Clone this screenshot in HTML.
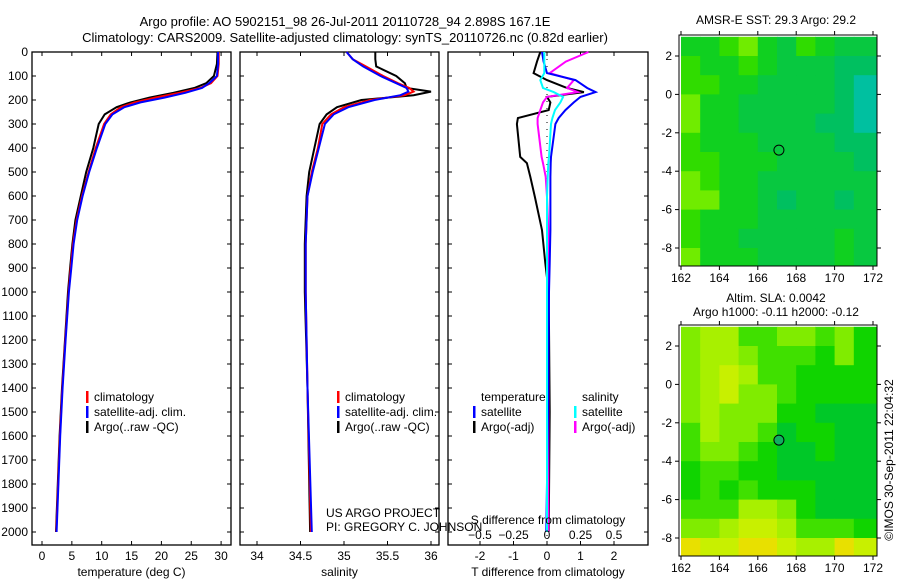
<!DOCTYPE html>
<html><head><meta charset="utf-8">
<style>
html,body{margin:0;padding:0;background:#fff;}
svg{display:block;font-family:"Liberation Sans",sans-serif;}
text{font-size:12px;fill:#000;}
</style></head>
<body>
<svg id="fig" width="900" height="580" xmlns="http://www.w3.org/2000/svg">
<text x="345" y="26" text-anchor="middle" style="font-size:13px">Argo profile: AO 5902151_98 26-Jul-2011 20110728_94 2.898S 167.1E</text>
<text x="345" y="42" text-anchor="middle" style="font-size:13px">Climatology: CARS2009. Satellite-adjusted climatology: synTS_20110726.nc (0.82d earlier)</text>
<g id="p1"></g>
<g id="p2"></g>
<g id="p3"></g>
<g id="m1"></g>
<g id="m2"></g>
<text x="776" y="24" text-anchor="middle">AMSR-E SST: 29.3 Argo: 29.2</text>
<text x="776" y="302" text-anchor="middle">Altim. SLA: 0.0042</text>
<text x="776" y="316" text-anchor="middle">Argo h1000: -0.11 h2000: -0.12</text>
<text transform="translate(893,460) rotate(-90)" text-anchor="middle">©IMOS 30-Sep-2011 22:04:32</text>
<text x="326" y="517">US ARGO PROJECT</text>
<text x="326" y="531">PI: GREGORY C. JOHNSON</text>
</svg>
<script>
// ---- profile data ----
const tDepth=[0,50,100,130,150,170,190,210,230,260,300,400,500,600,700,800,900,1000,1200,1400,1600,1800,2000];
const tClim=[29.6,29.6,29.4,28.3,26.5,23,19,15.5,13.2,11.5,10.4,9.0,7.8,6.7,5.8,5.2,4.8,4.45,3.9,3.4,3.0,2.7,2.4];
const tSat=[29.5,29.5,29.3,28.0,26.8,24,20.5,16.5,13.8,11.8,10.6,9.2,7.9,6.8,5.9,5.3,4.9,4.5,3.95,3.45,3.05,2.75,2.45];
const tArgo=[29.4,29.3,28.8,27.5,25.5,22,18,14.8,12.5,10.5,9.5,8.6,7.4,6.5,5.6,5.1,4.7,4.35,3.85,3.35,2.95,2.65,2.35];
const sDepth=[0,30,60,100,130,150,165,180,200,230,260,300,400,500,600,800,1000,1400,2000];
const sClim=[35.03,35.1,35.25,35.45,35.62,35.75,35.8,35.7,35.3,35.0,34.85,34.75,34.7,34.63,34.58,34.56,34.56,34.58,34.62];
const sSat=[35.03,35.1,35.22,35.42,35.6,35.72,35.74,35.65,35.35,35.05,34.88,34.78,34.71,34.64,34.58,34.56,34.56,34.58,34.63];
const sArgo=[35.36,35.36,35.37,35.6,35.7,35.72,36.0,35.8,35.2,34.92,34.8,34.72,34.66,34.6,34.57,34.55,34.55,34.58,34.61];
const dDepth=[0,40,88,117,150,167,187,210,242,275,300,437,463,520,604,742,880,1000,1500,2000];
const dTArgo=[-0.2,-0.3,-0.4,0,0.6,1.1,0,0.1,0.05,-0.87,-0.9,-0.8,-0.6,-0.5,-0.36,-0.15,-0.05,0.05,0.08,0.05];
const dTSat=[-0.15,-0.1,0,0.85,1.2,1.45,1.0,0.8,0.55,0.35,0.25,0.12,0.11,0.1,0.1,0.1,0.08,0.06,0.03,-0.02];
const dSArgo=[0.31,0.14,0.02,0.2,0.15,0.23,0.0,-0.03,-0.05,-0.07,-0.07,-0.04,-0.03,-0.01,0,0.01,0.01,0.01,0.01,0.01];
const dSSat=[-0.02,-0.02,-0.02,-0.05,-0.03,0.05,0.12,0.1,0.06,0.04,0.03,0.015,0.01,0.005,0,0,0,0,0,0];
const depthTicks=[0,100,200,300,400,500,600,700,800,900,1000,1100,1200,1300,1400,1500,1600,1700,1800,1900,2000];
const tTicks=[0,5,10,15,20,25,30];
const sTicks=[34,34.5,35,35.5,36];
const dTTicks=[-2,-1,0,1,2];
const dSTicks=[-0.5,-0.25,0,0.25,0.5];
const dSTickLabels=['−0.5','−0.25','0','0.25','0.5'];
// ---- map data (1° cells, rows lat 3→-9, cols lon 162→172) ----
const sstGrid=[
[3,3,4,5,3,2,4,3,2,2],[4,3,3,4,3,2,2,2,1,1],[4,4,3,3,2,2,2,2,1,0],[5,3,3,2,2,2,2,2,1,0],
[5,3,3,2,2,2,2,1,1,0],[4,3,3,3,2,2,2,2,1,1],[4,4,3,3,3,2,2,2,2,1],[5,4,3,3,2,2,2,2,2,2],
[5,5,3,3,2,1,2,2,1,2],[4,3,3,3,2,2,2,2,2,2],[4,3,3,2,2,2,2,2,3,2],[5,3,3,3,2,2,2,2,3,2]];
const slaGrid=[
[3,4,4,2,2,3,3,2,3,1],[3,4,4,3,2,2,2,1,3,1],[3,4,5,4,2,2,1,1,1,1],[3,4,5,3,3,2,1,1,1,1],
[3,4,3,3,3,1,1,0,0,0],[2,4,3,3,2,0,1,1,0,0],[2,3,3,2,1,0,0,1,0,0],[1,2,2,1,1,0,0,0,0,0],
[1,2,1,2,1,1,1,0,0,0],[2,2,2,4,4,3,1,0,0,0],[3,3,4,5,5,4,2,2,2,1],[6,5,5,6,6,5,4,4,6,5]];
const lonTicks=[162,164,166,168,170,172];
const latTicks=[2,0,-2,-4,-6,-8];
const floatLon=167.1, floatLat=-2.9;

const NS='http://www.w3.org/2000/svg';
function mk(tag,parent,attrs){const e=document.createElementNS(NS,tag);for(const k in attrs)e.setAttribute(k,attrs[k]);parent.appendChild(e);return e;}
const PT=52,PB=545;
const yD=d=>52+d*0.24;

function panel(g,x0,x1,xf,xticks,xlabels,xtitle,name){
  const r=mk('rect',g,{x:x0,y:PT,width:x1-x0,height:PB-PT,fill:'none',stroke:'#000','stroke-width':1.3});
  
  
  depthTicks.forEach(d=>{const y=yD(d);
    mk('line',g,{x1:x0,x2:x0+4,y1:y,y2:y,stroke:'#000'});mk('line',g,{x1:x1-4,x2:x1,y1:y,y2:y,stroke:'#000'});});
  xticks.forEach((v,i)=>{const x=xf(v);
    mk('line',g,{x1:x,x2:x,y1:PT,y2:PT+4,stroke:'#000'});mk('line',g,{x1:x,x2:x,y1:PB-4,y2:PB,stroke:'#000'});
    const t=mk('text',g,{x:x,y:560,'text-anchor':'middle'});t.textContent=xlabels[i];
    
    });
  const tt=mk('text',g,{x:(x0+x1)/2,y:576,'text-anchor':'middle'});tt.textContent=xtitle;
  
  
}
function line(g,xs,ds,xf,color,name,w){
  const pts=xs.map((v,i)=>xf(v).toFixed(1)+','+yD(ds[i]).toFixed(1)).join(' ');
  const p=mk('polyline',g,{points:pts,fill:'none',stroke:color,'stroke-width':w||2});
  
  
}
function legend(g,x,y,color,label,name){
  mk('rect',g,{x:x,y:y-10,width:2.5,height:12,fill:color});
  const t=mk('text',g,{x:x+8,y:y});t.textContent=label;
  
  
}
// panel 1
const p1=document.getElementById('p1');
const xT=v=>42+v*5.97;
depthTicks.forEach(d=>{const t=mk('text',p1,{x:28,y:yD(d)+4,'text-anchor':'end'});t.textContent=d;
  
  });
panel(p1,32,231,xT,tTicks,tTicks.map(String),'temperature (deg C)','temperature');
line(p1,tArgo,tDepth,xT,'#000','temperature-argo-line');
line(p1,tClim,tDepth,xT,'#f00','temperature-climatology-line');
line(p1,tSat,tDepth,xT,'#00f','temperature-satellite-line');
legend(p1,86,401,'#f00','climatology','legend-climatology');
legend(p1,86,416,'#00f','satellite-adj. clim.','legend-satellite');
legend(p1,86,431,'#000','Argo(..raw -QC)','legend-argo');
// panel 2
const p2=document.getElementById('p2');
const xS=v=>257+(v-34)*87;
panel(p2,240,439,xS,sTicks,sTicks.map(String),'salinity','salinity');
line(p2,sArgo,sDepth,xS,'#000','salinity-argo-line');
line(p2,sClim,sDepth,xS,'#f00','salinity-climatology-line');
line(p2,sSat,sDepth,xS,'#00f','salinity-satellite-line');
legend(p2,337,401,'#f00','climatology','legend-climatology-2');
legend(p2,337,416,'#00f','satellite-adj. clim.','legend-satellite-2');
legend(p2,337,431,'#000','Argo(..raw -QC)','legend-argo-2');
// panel 3
const p3=document.getElementById('p3');
const xDT=v=>547+v*33.5;
const xDS=v=>547+v*134;
panel(p3,448,648,xDT,dTTicks,dTTicks.map(String),'T difference from climatology','diff');
mk('line',p3,{x1:547,x2:547,y1:PT,y2:PB,stroke:'#000','stroke-dasharray':'1,6'});
line(p3,dTArgo,dDepth,xDT,'#000','t-diff-argo-line');
line(p3,dSArgo,dDepth,xDS,'#f0f','s-diff-argo-line');
line(p3,dTSat,dDepth,xDT,'#00f','t-diff-satellite-line');
line(p3,dSSat,dDepth,xDS,'#0ff','s-diff-satellite-line');
dSTicks.forEach((v,i)=>{const t=mk('text',p3,{x:xDS(v),y:539,'text-anchor':'middle'});t.textContent=dSTickLabels[i];
  
  });
{const t=mk('text',p3,{x:548,y:524,'text-anchor':'middle'});t.textContent='S difference from climatology';
 
 }
{const t=mk('text',p3,{x:481,y:401});t.textContent='temperature';
 
 
 const s=mk('text',p3,{x:582,y:401});s.textContent='salinity';
 
 }
legend(p3,473,416,'#00f','satellite','legend-t-satellite');
legend(p3,473,431,'#000','Argo(-adj)','legend-t-argo');
legend(p3,574,416,'#0ff','satellite','legend-s-satellite');
legend(p3,574,431,'#f0f','Argo(-adj)','legend-s-argo');
// maps
const sstPal=['#00c0a0','#00c060','#08c840','#10d020','#30dc00','#70ec00','#c0f000'];
const slaPal=['#00c828','#10d400','#40e000','#80ec00','#a8f000','#c8f000','#e8e000'];
function map(g,top,grid,pal,fillCircle,name){
  const x0=680,x1=877,bot=top+231;
  const lx=l=>681+(l-162)*19.2;
  const ly=l=>top+21+(2-l)*19.2;
  grid.forEach((row,r)=>row.forEach((v,c)=>{
    const xa=lx(162+c),xb=c===row.length-1?x1:lx(163+c);
    const ya=Math.max(top,ly(3-r)),yb=r===grid.length-1?bot:ly(2-r);
    const cell=mk('rect',g,{x:xa,y:ya,width:xb-xa+0.5,height:yb-ya+0.5,fill:pal[v]});
    
    
  }));
  mk('rect',g,{x:x0-1,y:top,width:x1-x0+1,height:bot-top,fill:'none',stroke:'#000','stroke-width':1});
  lonTicks.forEach(l=>{const x=lx(l);
    mk('line',g,{x1:x,x2:x,y1:top-4,y2:top,stroke:'#000'});mk('line',g,{x1:x,x2:x,y1:bot,y2:bot+4,stroke:'#000'});
    const t=mk('text',g,{x:x,y:bot+16,'text-anchor':'middle'});t.textContent=l;
    
    });
  latTicks.forEach(l=>{const y=ly(l);
    mk('line',g,{x1:x0-5,x2:x0-1,y1:y,y2:y,stroke:'#000'});mk('line',g,{x1:x1,x2:x1+4,y1:y,y2:y,stroke:'#000'});
    const t=mk('text',g,{x:x0-8,y:y+4,'text-anchor':'end'});t.textContent=l;
    
    });
  const c=mk('circle',g,{cx:lx(floatLon),cy:ly(floatLat),r:5,fill:fillCircle,stroke:'#000'});
  
  
}
map(document.getElementById('m1'),35,sstGrid,sstPal,'none','sst-map');
map(document.getElementById('m2'),325,slaGrid,slaPal,'#10b060','sla-map');
</script>
</body></html>
